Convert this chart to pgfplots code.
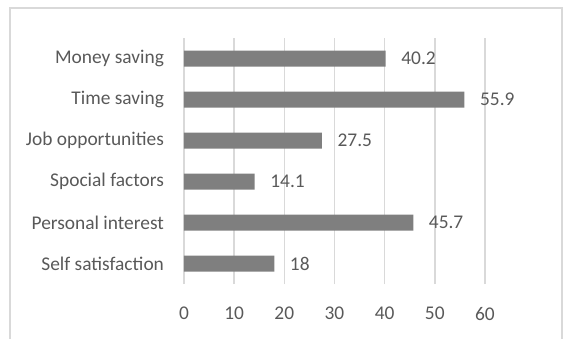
\documentclass[border=0pt]{standalone}
\usepackage{pgfplots}
\pgfplotsset{compat=1.18}
\usepackage{fontspec}
\setmainfont{Carlito}
\definecolor{bargray}{HTML}{7F7F7F}
\definecolor{txtgray}{HTML}{595959}
\definecolor{gridgray}{HTML}{D9D9D9}
\begin{document}
\begin{tikzpicture}
\path[use as bounding box] (0,0) rectangle (281.5pt,169pt);
\draw[gridgray, line width=0.6pt] (5pt,-10pt) rectangle (281pt,165pt);
\begin{axis}[
  at={(92pt,27pt)}, anchor=south west,
  scale only axis, width=150.5pt, height=123pt,
  xbar, bar width=8pt,
  xmin=0, xmax=60, ymin=-0.5, ymax=5.5,
  xtick={0,10,20,30,40,50,60},
  ytick={0,1,2,3,4,5},
  yticklabels={Self satisfaction,Personal interest,Spocial factors,Job opportunities,Time saving,Money saving},
  axis line style={draw=none},
  major tick length=0pt,
  xmajorgrids, grid style={gridgray, line width=0.75pt},
  tick label style={font=\fontsize{9.7}{11}\selectfont, text=txtgray},
  /pgf/number format/assume math mode=true,
  xticklabel style={yshift=-8pt},
  yticklabel style={xshift=-6.5pt},
  point meta=explicit symbolic,
  nodes near coords,
  nodes near coords style={anchor=west, xshift=4.3pt, font=\fontsize{9.7}{11}\selectfont, text=txtgray},
]
\addplot[fill=bargray, draw=none] coordinates {
  (18,0) [18]
  (45.7,1) [45.7]
  (14.1,2) [14.1]
  (27.5,3) [27.5]
  (55.9,4) [55.9]
  (40.2,5) [40.2]
};
\end{axis}
\end{tikzpicture}
\end{document}
